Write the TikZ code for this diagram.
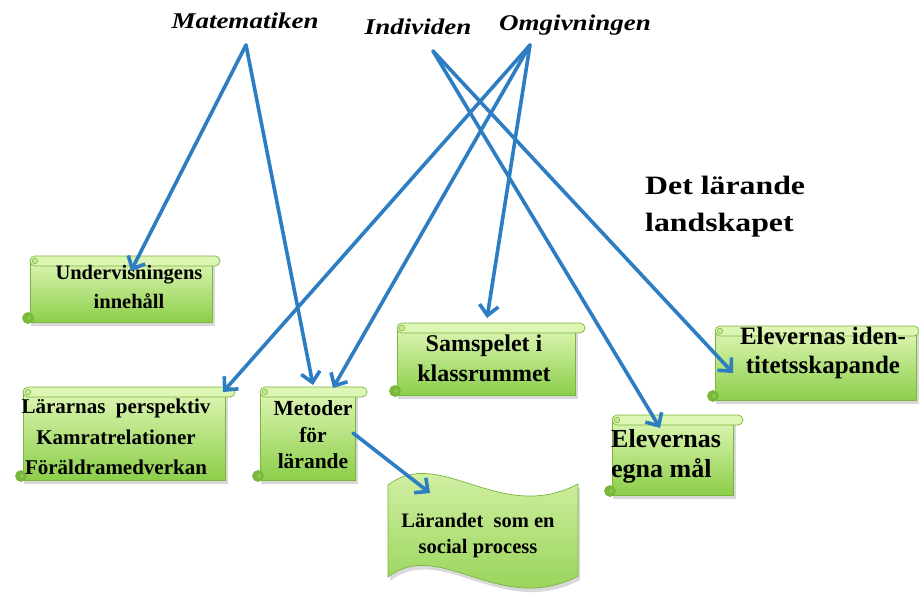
\documentclass[tikz,border=0pt]{standalone}
\usepackage{fontspec}
\setmainfont{Liberation Serif}
\newfontfamily\titlefont[FakeStretch=1.2]{Liberation Serif}
\usetikzlibrary{arrows.meta}
\definecolor{arrowblue}{RGB}{45,125,195}
\definecolor{scrolltop}{RGB}{222,246,180}
\definecolor{scrollbot}{RGB}{140,206,74}
\definecolor{scrolledge}{RGB}{122,182,62}
\definecolor{curlfill}{RGB}{120,185,60}
% #1 L, #2 T, #3 bar right, #4 body right, #5 B   (pixel coordinates, y down)
\newcommand{\scrollshape}[5]{%
  \fill[black,opacity=0.15] (#1+1,#2+8) rectangle (#4+3,#5+4);
  \path[draw=scrolledge,line width=0.7pt,top color=scrolltop,bottom color=scrollbot] (#1,#2+4) rectangle (#4,#5);
  \path[draw=scrolledge,line width=0.7pt,fill=curlfill] (#1-2,#5-4) circle (5.5pt);
  \path[draw=scrolledge,line width=0.5pt,fill=scrollbot] (#1-1,#5-4) circle (2.2pt);
  \path[draw=scrolledge,line width=0.7pt,fill=scrolltop,rounded corners=5pt] (#1,#2) rectangle (#3,#2+10);
  \path[draw=scrolledge,line width=0.5pt,fill=scrolltop!70!scrollbot] (#1+5,#2+5) circle (2.8pt);
}
\tikzset{
  arr/.style={draw=arrowblue,line width=3.6pt,line cap=round,-{Straight Barb[length=10pt,width=19pt]}},
  title/.style={font=\titlefont\bfseries\itshape\fontsize{22.5}{26}\selectfont,anchor=base,inner sep=0pt},
  boxtxt/.style={font=\bfseries\fontsize{20.5}{29}\selectfont,align=center,inner sep=0pt},
}
\begin{document}
\begin{tikzpicture}[x=1pt,y=-1pt]
\useasboundingbox (0,0) rectangle (919,598);
\fill[white] (0,0) rectangle (919,598);

% scrolls
\scrollshape{30}{256}{220}{212}{322}
\scrollshape{23}{387}{235}{225}{480}
\scrollshape{260}{387}{367}{355}{480}
\scrollshape{397}{323}{585}{575}{395}
\scrollshape{715}{326}{919}{916}{400}
\scrollshape{612}{415}{743}{733}{495}

% wave
\fill[black,opacity=0.15] (390,489) .. controls (442,449) and (502,529) .. (580,488)
   -- (580,580) .. controls (502,621) and (442,541) .. (390,581) -- cycle;
\path[draw=scrolledge,line width=0.7pt,top color=scrolltop,bottom color=scrollbot]
  (388,485) .. controls (440,445) and (500,525) .. (578,484)
  -- (578,576) .. controls (500,617) and (440,537) .. (388,577) -- cycle;

% titles
\node[title] (mat) at (245,28) {Matematiken};
\node[title] (ind) at (418,34) {Individen};
\node[title] (omg) at (575,30) {Omgivningen};
\node[font=\titlefont\bfseries\fontsize{26.5}{37}\selectfont,align=left,anchor=west,inner sep=0pt] (det) at (645,207) {Det lärande\\landskapet};

% box texts
\node[boxtxt] (und) at (129,287) {Undervisningens\\innehåll};
\node[boxtxt,font=\bfseries\fontsize{21}{30.5}\selectfont] (lar) at (116,437) {Lärarnas \ perspektiv\\Kamratrelationer\\Föräldramedverkan};
\node[boxtxt,font=\bfseries\fontsize{21.5}{26.5}\selectfont] (met) at (313,435) {Metoder\\för\\lärande};
\node[boxtxt,font=\bfseries\fontsize{24}{30}\selectfont] (sam) at (484,358) {Samspelet i\\klassrummet};
\node[boxtxt,font=\bfseries\fontsize{25}{29}\selectfont] (ide) at (823,353) {Elevernas iden-\\titetsskapande};
\node[boxtxt,font=\bfseries\fontsize{26}{30}\selectfont,align=left,anchor=west] (mal) at (611,456) {Elevernas\\egna mål};
\node[boxtxt,font=\bfseries\fontsize{20.5}{26}\selectfont] (soc) at (478,536) {Lärandet \ som en\\social process};

% connector end points
\coordinate (matA) at (246,45);
\coordinate (omgA) at (530,45);
\coordinate (indA) at (433,51);
\coordinate (undT) at (131,271);
\coordinate (metT1) at (313,385);
\coordinate (metT2) at (333,388);
\coordinate (larT) at (223,392);
\coordinate (samT) at (487,318);
\coordinate (ideT) at (733,373);
\coordinate (malT) at (660,428);
\coordinate (metS) at (353,433);
\coordinate (socT) at (430,493);

% connectors
\draw[arr] (matA) -- (undT);
\draw[arr] (matA) -- (metT1);
\draw[arr] (omgA) -- (larT);
\draw[arr] (omgA) -- (metT2);
\draw[arr] (omgA) -- (samT);
\draw[arr] (indA) -- (ideT);
\draw[arr] (indA) -- (malT);
\draw[arr] (metS) -- (socT);
\end{tikzpicture}
\end{document}
